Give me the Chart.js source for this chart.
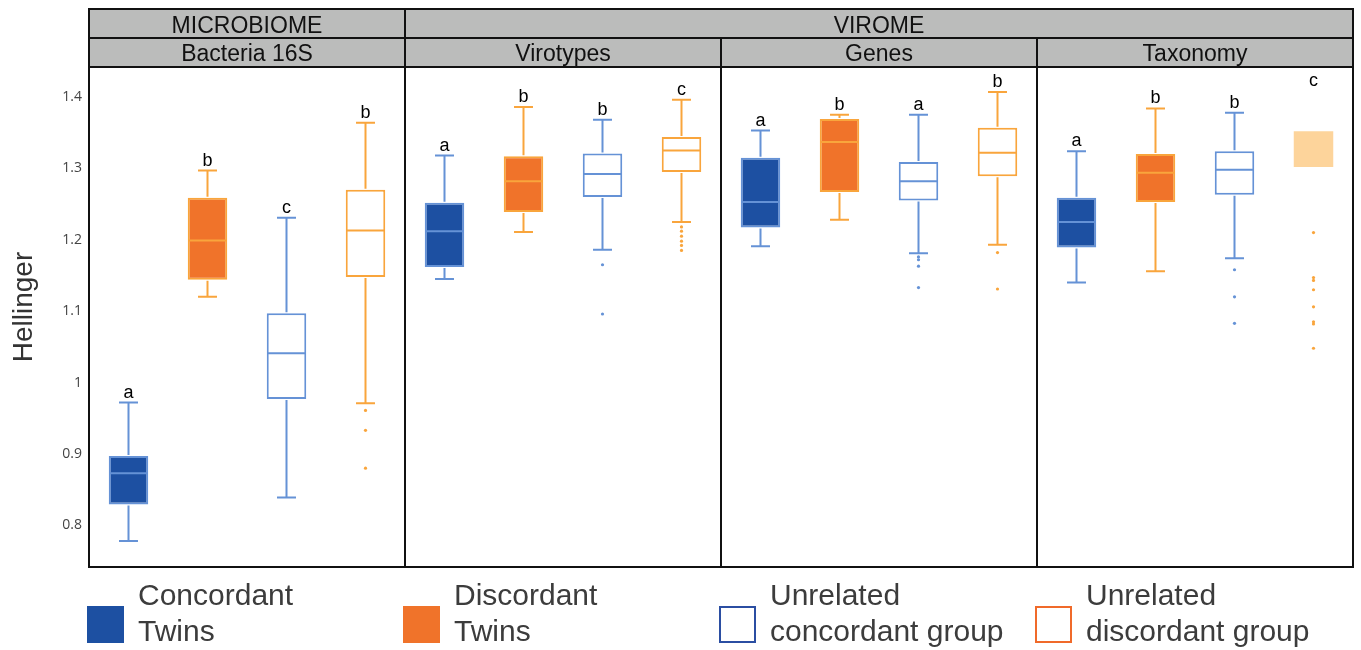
<!DOCTYPE html>
<html>
<head>
<meta charset="utf-8">
<title>Hellinger distances</title>
<script src="https://cdn.jsdelivr.net/npm/chart.js@4/dist/chart.umd.min.js"></script>
<style>
  html, body { margin: 0; padding: 0; background: #fff; }
  #wrap { position: relative; width: 1361px; height: 650px; overflow: hidden; }
  #c { position: absolute; left: 0; top: 0; }
  .swatch { position: absolute; width: 37px; height: 37px; box-sizing: border-box; }
  .legend-text {
    position: absolute; white-space: nowrap;
    font-family: "Liberation Sans", Arial, sans-serif;
    font-size: 30px; line-height: 36px; color: #3c3c3c;
  }
</style>
</head>
<body>
<div id="wrap">
  <canvas id="c" width="1361" height="650"></canvas>
  <div id="legend"></div>
</div>
<script>
// ---- facets ----
const sectionNames = ['MICROBIOME', 'VIROME'];
const sectionSpans = [1, 3];
const panelNames = ['Bacteria 16S', 'Virotypes', 'Genes', 'Taxonomy'];

// ---- groups ----
const groupNames = ['Concordant Twins', 'Discordant Twins', 'Unrelated concordant group', 'Unrelated discordant group'];
const legendLines = [['Concordant', 'Twins'], ['Discordant', 'Twins'], ['Unrelated', 'concordant group'], ['Unrelated', 'discordant group']];

// ---- y axis ----
const tickValues = [0.8, 0.9, 1.0, 1.1, 1.2, 1.3, 1.4];
const tickLabels = ['0.8', '0.9', '1', '1.1', '1.2', '1.3', '1.4'];

// five-number summaries, one per panel: [lower whisker, Q1, median, Q3, upper whisker]
const concordantTwins = [
  [0.778, 0.829, 0.873, 0.897, 0.972],
  [1.145, 1.162, 1.212, 1.252, 1.318],
  [1.191, 1.217, 1.253, 1.315, 1.353],
  [1.140, 1.189, 1.225, 1.259, 1.324]
];
const discordantTwins = [
  [1.120, 1.144, 1.199, 1.259, 1.297],
  [1.211, 1.239, 1.282, 1.317, 1.386],
  [1.228, 1.267, 1.337, 1.369, 1.375],
  [1.156, 1.253, 1.294, 1.320, 1.384]
];
const unrelatedConcordant = [
  [0.839, 0.977, 1.041, 1.097, 1.231],
  [1.186, 1.260, 1.292, 1.321, 1.368],
  [1.181, 1.255, 1.282, 1.309, 1.375],
  [1.174, 1.263, 1.298, 1.324, 1.378]
];
const unrelatedDiscordant = [
  [0.971, 1.148, 1.213, 1.270, 1.364],
  [1.225, 1.295, 1.325, 1.344, 1.396],
  [1.193, 1.289, 1.322, 1.357, 1.407],
  [null, 1.302, null, 1.352, null]
];

// outliers, one list per panel
const concordantOutliers = [[], [], [], []];
const discordantOutliers = [[], [], [], []];
const unrelatedConcordantOutliers = [
  [],
  [1.165, 1.096],
  [1.176, 1.172, 1.163, 1.133],
  [1.158, 1.120, 1.083]
];
const unrelatedDiscordantOutliers = [
  [0.961, 0.933, 0.880],
  [1.218, 1.212, 1.205, 1.198, 1.192, 1.185],
  [1.182, 1.131],
  [1.210, 1.147, 1.143, 1.130, 1.106, 1.085, 1.082, 1.048]
];

// significance letters, one per panel
const concordantLetters = ['a', 'a', 'a', 'a'];
const discordantLetters = ['b', 'b', 'b', 'b'];
const unrelatedConcordantLetters = ['c', 'b', 'a', 'b'];
const unrelatedDiscordantLetters = ['b', 'c', 'b', 'c'];

// ---- styles ----
const groupStyle = [
  { fill: '#1d50a2', line: '#6592d6', swatchFill: '#1d50a2', swatchLine: '#1d50a2' },
  { fill: '#f0732a', line: '#f9a53c', swatchFill: '#f0732a', swatchLine: '#f0732a' },
  { fill: '#ffffff', line: '#6592d6', swatchFill: '#ffffff', swatchLine: '#2b4ea2' },
  { fill: '#ffffff', line: '#f9a53c', swatchFill: '#ffffff', swatchLine: '#f06a2a' }
];
const paleFill = '#fdd49b';
const FONT = '"Liberation Sans", Arial, sans-serif';

// ---- flatten into one category per (panel, group) ----
const groupStats = [concordantTwins, discordantTwins, unrelatedConcordant, unrelatedDiscordant];
const groupOutliers = [concordantOutliers, discordantOutliers, unrelatedConcordantOutliers, unrelatedDiscordantOutliers];
const groupLetters = [concordantLetters, discordantLetters, unrelatedConcordantLetters, unrelatedDiscordantLetters];

const labels = [], stats = [], letters = [], styleIdx = [];
const outlierPoints = [], outlierColors = [];
panelNames.forEach((panel, pi) => {
  groupNames.forEach((group, gi) => {
    const label = panel + ' / ' + group;
    labels.push(label);
    stats.push(groupStats[gi][pi]);
    letters.push(groupLetters[gi][pi]);
    styleIdx.push(gi);
    groupOutliers[gi][pi].forEach(v => {
      outlierPoints.push({ x: label, y: v });
      outlierColors.push(groupStyle[gi].line);
    });
  });
});

const boxData = stats.map(s => [s[1], s[3]]);

// whiskers, medians and letters on top of the floating bars
const boxPlugin = {
  id: 'boxWhiskers',
  afterDatasetsDraw(chart) {
    const { ctx, chartArea } = chart;
    const y = chart.scales.y;
    const meta = chart.getDatasetMeta(0);
    ctx.save();
    ctx.lineWidth = 2;
    stats.forEach((s, i) => {
      const bar = meta.data[i];
      const x = bar.x, w = bar.width;
      const cap = w * 0.24;
      ctx.strokeStyle = groupStyle[styleIdx[i]].line;
      ctx.beginPath();
      if (s[0] != null) {
        ctx.moveTo(x, y.getPixelForValue(s[1]) + 1);
        ctx.lineTo(x, y.getPixelForValue(s[0]));
        ctx.moveTo(x - cap, y.getPixelForValue(s[0]));
        ctx.lineTo(x + cap, y.getPixelForValue(s[0]));
      }
      if (s[4] != null) {
        ctx.moveTo(x, y.getPixelForValue(s[3]) - 1);
        ctx.lineTo(x, y.getPixelForValue(s[4]));
        ctx.moveTo(x - cap, y.getPixelForValue(s[4]));
        ctx.lineTo(x + cap, y.getPixelForValue(s[4]));
      }
      if (s[2] != null) {
        ctx.moveTo(x - w / 2 + 1, y.getPixelForValue(s[2]));
        ctx.lineTo(x + w / 2 - 1, y.getPixelForValue(s[2]));
      }
      ctx.stroke();

      ctx.fillStyle = '#000';
      ctx.font = '18px ' + FONT;
      ctx.textAlign = 'center';
      ctx.textBaseline = 'alphabetic';
      const ly = s[4] != null ? y.getPixelForValue(s[4]) - 5 : chartArea.top + 19;
      ctx.fillText(letters[i], x, ly);
    });
    ctx.restore();
  }
};

// facet strips, frame and y title
const facetPlugin = {
  id: 'facets',
  afterDraw(chart) {
    const { ctx, chartArea: a } = chart;
    const n = panelNames.length;
    const pw = (a.right - a.left) / n;
    const stripH = 29;
    const y0 = a.top - 2 * stripH, y1 = a.top - stripH, y2 = a.top;
    ctx.save();
    ctx.fillStyle = '#bbbcbb';
    ctx.fillRect(a.left, y0, a.right - a.left, y2 - y0);

    ctx.fillStyle = '#111';
    ctx.font = '23px ' + FONT;
    ctx.textAlign = 'center';
    ctx.textBaseline = 'alphabetic';
    let start = 0;
    const sectionEdges = [];
    sectionNames.forEach((name, i) => {
      const l = a.left + start * pw, r = l + sectionSpans[i] * pw;
      ctx.fillText(name, (l + r) / 2, y1 - 5);
      start += sectionSpans[i];
      if (start < n) sectionEdges.push(a.left + start * pw);
    });
    panelNames.forEach((name, i) => {
      ctx.fillText(name, a.left + (i + 0.5) * pw, y2 - 6);
    });

    ctx.strokeStyle = '#111';
    ctx.lineWidth = 2;
    ctx.strokeRect(a.left, y0, a.right - a.left, a.bottom - y0);
    ctx.beginPath();
    ctx.moveTo(a.left, y1); ctx.lineTo(a.right, y1);
    ctx.moveTo(a.left, y2); ctx.lineTo(a.right, y2);
    for (let i = 1; i < n; i++) {
      const x = a.left + i * pw;
      const top = sectionEdges.some(e => Math.abs(e - x) < 0.5) ? y0 : y1;
      ctx.moveTo(x, top); ctx.lineTo(x, a.bottom);
    }
    ctx.stroke();

    // y axis title
    ctx.translate(32, (a.top + a.bottom) / 2 - 10);
    ctx.rotate(-Math.PI / 2);
    ctx.fillStyle = '#333';
    ctx.font = '28px ' + FONT;
    ctx.textAlign = 'center';
    ctx.textBaseline = 'alphabetic';
    ctx.fillText('Hellinger', 0, 0);
    ctx.restore();
  }
};

const chart = new Chart(document.getElementById('c'), {
  type: 'bar',
  data: {
    labels: labels,
    datasets: [
      {
        type: 'bar',
        label: 'boxes',
        data: boxData,
        backgroundColor: stats.map((s, i) => s[2] == null ? paleFill : groupStyle[styleIdx[i]].fill),
        borderColor: stats.map((s, i) => groupStyle[styleIdx[i]].line),
        borderWidth: stats.map(s => s[2] == null ? 0 : 2),
        borderSkipped: false,
        barPercentage: 0.5,
        categoryPercentage: 1.0,
        order: 2
      },
      {
        type: 'line',
        label: 'outliers',
        data: outlierPoints,
        showLine: false,
        pointRadius: 1.6,
        pointBorderWidth: 0,
        pointBackgroundColor: outlierColors,
        order: 1
      }
    ]
  },
  options: {
    responsive: false,
    animation: false,
    devicePixelRatio: 1,
    layout: { padding: { left: 0, right: 8, top: 67, bottom: 83 } },
    plugins: { legend: { display: false }, tooltip: { enabled: false } },
    scales: {
      x: { display: false, offset: true, grid: { display: false } },
      y: {
        min: 0.7416,
        max: 1.442,
        grid: { display: false, drawTicks: false },
        border: { display: false },
        afterBuildTicks: s => { s.ticks = tickValues.map(v => ({ value: v })); },
        afterFit: s => { s.width = 89; },
        ticks: {
          padding: 7,
          color: '#444',
          font: { family: '"Open Sans", sans-serif', size: 14 },
          callback: (v) => tickLabels[tickValues.indexOf(v)]
        }
      }
    }
  },
  plugins: [boxPlugin, facetPlugin]
});

// legend below the panels
(function buildLegend() {
  const a = chart.chartArea;
  const pw = (a.right - a.left) / panelNames.length;
  const host = document.getElementById('legend');
  groupNames.forEach((name, i) => {
    const x = a.left + i * pw - 2;
    const st = groupStyle[i];
    const sw = document.createElement('div');
    sw.className = 'swatch';
    sw.title = name;
    sw.style.left = x + 'px';
    sw.style.top = '606px';
    sw.style.background = st.swatchFill;
    sw.style.border = (st.swatchFill === '#ffffff' ? 2 : 0) + 'px solid ' + st.swatchLine;
    host.appendChild(sw);
    const tx = document.createElement('div');
    tx.className = 'legend-text';
    tx.style.left = (x + 51) + 'px';
    tx.style.top = '577px';
    tx.innerHTML = legendLines[i].join('<br>');
    host.appendChild(tx);
  });
})();
</script>
</body>
</html>
